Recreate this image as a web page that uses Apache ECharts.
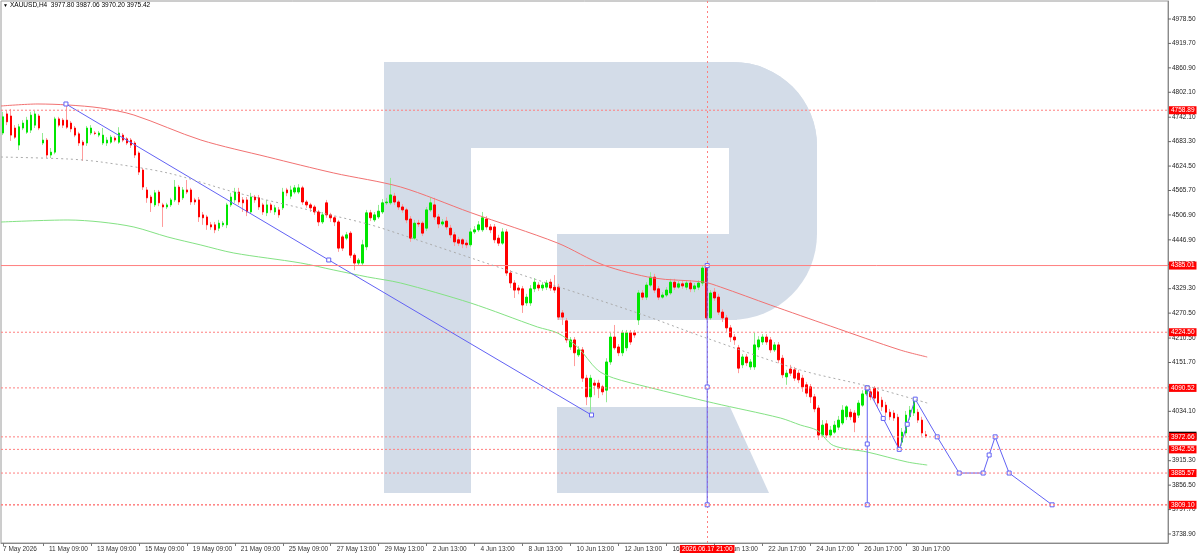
<!DOCTYPE html>
<html><head><meta charset="utf-8">
<script src="https://cdn.jsdelivr.net/npm/echarts@6.0.0/dist/echarts.min.js"></script>
<style>html,body{margin:0;padding:0;background:#fff;}#chart{width:1200px;height:555px;}</style>
</head><body><div id="chart"></div>
<script>
// ---------- data ----------
const symbolName = 'XAUUSD,H4';
const lastOHLC = [3977.80, 3987.06, 3970.20, 3975.42];

// H4 candles: [open, close, low, high]
const candles = [
[4704,4743,4699,4755],[4750,4731,4723,4759],[4745,4699,4685,4762],[4716,4694,4690,4723],[4675,4719,4663,4726],
[4716,4728,4711,4735],[4706,4735,4702,4743],[4711,4747,4704,4755],[4723,4750,4716,4757],[4745,4716,4711,4750],
[4680,4687,4675,4704],[4687,4651,4644,4692],[4651,4658,4644,4668],[4658,4738,4653,4743],[4738,4723,4718,4743],
[4735,4723,4716,4740],[4735,4718,4714,4774],[4728,4714,4706,4733],[4716,4699,4694,4721],[4702,4680,4673,4707],
[4682,4675,4637,4687],[4680,4716,4673,4721],[4704,4716,4699,4723],[4704,4703,4699,4709],[4699,4704,4694,4709],
[4680,4699,4675,4716],[4680,4687,4673,4694],[4682,4694,4678,4699],[4692,4687,4682,4697],[4682,4704,4678,4718],
[4699,4687,4682,4704],[4690,4680,4675,4694],[4687,4675,4668,4692],[4680,4651,4644,4685],[4656,4610,4603,4660],
[4615,4574,4567,4620],[4567,4548,4536,4574],[4550,4536,4514,4555],[4531,4560,4526,4567],[4562,4536,4528,4567],
[4531,4526,4478,4536],[4526,4531,4521,4536],[4531,4543,4526,4548],[4543,4574,4538,4591],[4574,4538,4531,4579],
[4548,4567,4543,4574],[4567,4562,4557,4591],[4567,4538,4531,4572],[4543,4538,4531,4548],[4543,4502,4490,4550],
[4507,4500,4483,4514],[4502,4483,4471,4507],[4483,4478,4471,4490],[4483,4471,4463,4490],[4475,4487,4468,4495],
[4483,4487,4478,4492],[4483,4531,4475,4536],[4531,4550,4526,4560],[4543,4562,4536,4572],[4562,4538,4531,4572],
[4543,4536,4514,4550],[4543,4514,4504,4550],[4514,4550,4509,4560],[4550,4543,4536,4555],[4548,4526,4519,4555],
[4531,4514,4507,4536],[4512,4531,4504,4543],[4531,4519,4512,4536],[4514,4524,4507,4531],[4519,4507,4500,4526],
[4524,4562,4519,4572],[4567,4560,4552,4572],[4552,4567,4545,4577],[4562,4572,4557,4579],[4562,4572,4557,4581],
[4572,4538,4531,4577],[4538,4531,4524,4543],[4531,4524,4514,4536],[4526,4514,4507,4531],[4514,4490,4480,4519],
[4490,4507,4485,4514],[4536,4507,4500,4543],[4507,4500,4490,4512],[4500,4490,4480,4504],[4490,4427,4418,4495],
[4454,4427,4420,4459],[4451,4459,4446,4466],[4463,4410,4403,4468],[4410,4391,4374,4415],[4391,4398,4384,4403],
[4391,4435,4386,4447],[4430,4512,4422,4519],[4512,4500,4492,4519],[4495,4507,4490,4514],[4502,4516,4497,4531],
[4514,4536,4509,4545],[4536,4538,4531,4548],[4536,4555,4531,4596],[4552,4538,4531,4560],[4538,4526,4519,4543],
[4526,4519,4512,4533],[4519,4495,4487,4524],[4497,4451,4442,4504],[4451,4487,4447,4495],[4487,4485,4478,4495],
[4487,4463,4456,4492],[4475,4519,4468,4526],[4519,4536,4514,4548],[4531,4502,4495,4548],[4502,4485,4475,4509],
[4485,4490,4480,4497],[4492,4478,4471,4502],[4475,4459,4451,4483],[4459,4442,4432,4466],[4447,4439,4432,4454],
[4447,4437,4427,4451],[4439,4435,4427,4447],[4435,4466,4430,4475],[4466,4471,4461,4480],[4471,4483,4466,4492],
[4471,4500,4466,4514],[4497,4478,4471,4504],[4478,4471,4463,4485],[4478,4447,4439,4485],[4451,4439,4432,4459],
[4439,4466,4435,4475],[4466,4367,4360,4473],[4367,4343,4331,4374],[4343,4326,4307,4350],[4331,4326,4316,4338],
[4329,4290,4271,4336],[4295,4309,4288,4317],[4295,4329,4288,4338],[4329,4345,4321,4355],[4338,4331,4324,4345],
[4331,4338,4324,4345],[4333,4343,4326,4350],[4345,4331,4324,4353],[4333,4326,4319,4362],[4333,4261,4254,4341],
[4271,4261,4242,4278],[4252,4206,4199,4259],[4189,4206,4182,4213],[4206,4175,4143,4213],[4170,4182,4165,4191],
[4182,4114,4105,4189],[4114,4069,4049,4122],[4069,4114,4025,4122],[4102,4097,4073,4110],[4102,4090,4066,4110],
[4093,4081,4073,4098],[4085,4153,4056,4162],[4153,4213,4146,4223],[4213,4187,4182,4242],[4189,4175,4167,4196],
[4175,4223,4167,4230],[4187,4223,4179,4230],[4223,4201,4194,4230],[4223,4218,4211,4230],[4254,4319,4242,4326],
[4319,4309,4302,4326],[4309,4338,4302,4345],[4338,4357,4333,4369],[4357,4326,4319,4365],[4329,4309,4302,4336],
[4309,4314,4305,4321],[4314,4326,4309,4333],[4319,4345,4314,4353],[4345,4333,4326,4353],[4333,4341,4329,4348],
[4341,4336,4329,4348],[4333,4343,4326,4350],[4343,4329,4321,4350],[4329,4336,4321,4343],[4333,4343,4326,4350],
[4343,4379,4336,4384],[4379,4259,4254,4384],[4259,4319,4254,4326],[4321,4307,4300,4331],[4309,4273,4266,4317],
[4273,4259,4249,4280],[4259,4235,4225,4266],[4235,4213,4201,4242],[4213,4206,4194,4220],[4187,4138,4126,4194],
[4146,4165,4138,4172],[4165,4151,4143,4172],[4141,4153,4134,4160],[4141,4194,4134,4223],[4189,4206,4182,4215],
[4201,4213,4194,4220],[4213,4201,4194,4220],[4206,4182,4175,4213],[4182,4194,4177,4201],[4194,4158,4150,4201],
[4162,4122,4114,4170],[4117,4126,4098,4134],[4136,4126,4119,4146],[4134,4114,4107,4141],[4126,4110,4102,4134],
[4114,4093,4081,4122],[4098,4078,4069,4105],[4093,4069,4054,4100],[4069,4040,4032,4076],[4042,3977,3965,4049],
[3977,4001,3972,4013],[4004,3977,3970,4013],[3977,3989,3972,3999],[3984,4001,3980,4011],[3996,4013,3989,4023],
[4006,4037,4001,4049],[4021,4045,4013,4049],[4032,4021,4013,4040],[4030,4008,3984,4037],[4025,4054,4018,4061],
[4049,4076,4045,4085],[4076,4093,4071,4097],[4081,4069,4061,4088],[4090,4066,4057,4095],[4081,4054,4042,4085],
[4061,4045,4035,4069],[4049,4032,4023,4057],[4032,4021,4013,4040],[4030,4018,4011,4037],[4020,3948,3943,4028],
[3960,3984,3951,3994],[3982,4025,3975,4035],[4021,4037,4013,4047],[4030,4064,4023,4066],[4032,4013,4006,4040],
[4013,3982,3975,4021],[3977.80,3975.42,3970.20,3987.06]
];

// bar slots on the time axis (candles + empty future space)
const slotCount = 292;

// x-axis tick labels (bar index -> text)
const xTickIdx  = [0,10,22,34,46,58,70,82,94,106,118,130,142,154,166,178,190,202,214,226];
const xTickText = ['7 May 2026','11 May 09:00','13 May 09:00','15 May 09:00','19 May 09:00','21 May 09:00',
  '25 May 09:00','27 May 13:00','29 May 13:00','2 Jun 13:00','4 Jun 13:00','8 Jun 13:00','10 Jun 13:00',
  '12 Jun 13:00','16 Jun 13:00','18 Jun 13:00','22 Jun 17:00','24 Jun 17:00','26 Jun 17:00','30 Jun 17:00'];

// price-axis tick labels
const yTicks = [4978.50,4919.70,4860.90,4802.10,4742.10,4683.30,4624.50,4565.70,4506.90,4446.90,4388.10,
  4329.30,4270.50,4210.50,4151.70,4092.90,4034.10,3974.10,3915.30,3856.50,3797.70,3738.90];

// horizontal price levels
const levels = [4758.89,4385.01,4224.50,4090.52,3972.66,3942.55,3885.57,3809.10];
const solidLevel = 4385.01;

// moving averages [barIndex, price]
const maRed = [[-0.5,4769.1],[8.75,4773.9],[16.25,4771.5],[24.5,4764.2],[32.75,4747.4],[49.5,4687.2],
  [66.25,4646.3],[82.75,4607.8],[99.5,4574.1],[117,4512.5],[138.75,4439.3],[150.25,4386.3],[162.75,4355.1],
  [175.25,4345.4],[179.5,4333.4],[192,4290.1],[207,4239.5],[224.5,4181.7],[231.25,4164.9]];
const maGreen = [[-0.5,4489.8],[16.25,4494.7],[24.5,4489.8],[32.75,4477.8],[41.25,4453.7],[49.5,4434.5],
  [57.75,4415.2],[74.5,4391.2],[82.75,4374.3],[91.25,4357.5],[99.5,4343.0],[117,4294.9],[133.75,4237.1],
  [138.75,4222.7],[143.75,4189.0],[148.75,4133.6],[152.75,4114.4],[161.25,4092.7],[177.75,4054.2],
  [194.5,4018.1],[199.5,4001.2],[203.75,3988.0],[207.75,3952.0],[216.25,3936.2],[226.25,3912.2],[231.25,3904.9]];
const maGray = [[-0.5,4646.3],[16.25,4641.5],[24.5,4634.3],[41.25,4607.8],[57.75,4562.1],[74.5,4523.5],
  [91.25,4485.0],[99.5,4460.0],[125.25,4377.0],[158.75,4271.0],[175.25,4213.0],[199.5,4133.6],
  [216.25,4095.1],[231.25,4054.2]];

// drawn objects [barIndex, price]
const trendLine = [[15.75,4773.9],[81.5,4398.4],[147.25,4025.3]];
const vLine1 = [[176.2,4385.0],[176.2,4092.7],[176.2,3809.1]];
const vLine2 = [[216.25,4090.5],[216.25,3955.5],[216.25,3809.1]];
const zigzag = [[216.25,4090.5],[220.25,4017.0],[224.25,3942.6],[226.25,4003.0],[228.25,4063.5],
  [233.75,3972.7],[239.25,3885.6],[245.25,3885.6],[246.75,3929.0],[248.25,3972.7],[251.75,3885.6],[262.5,3809.1]];
const crossIdx = 176.2;
const crossLabel = '2026.06.17 21:00';

// ---------- chart ----------
const FONT = 'Liberation Sans, Arial, sans-serif';
const cats = Array.from({length: slotCount}, (_, i) => String(i));
const tickMap = {};
xTickIdx.forEach((k, j) => { tickMap[k] = xTickText[j]; });
const isTick = (idx) => tickMap[idx] !== undefined;
const bodies = candles.map(c => [c[0], c[1], Math.min(c[0], c[1]), Math.max(c[0], c[1])]);

// watermark logo pieces (decoration)
const LOGO_FILL = '#d3dce8';
const logoEl = (shape, r) => ({ type: 'rect', shape: Object.assign({}, shape, r ? { r: r } : {}), style: { fill: LOGO_FILL }, z: 0, silent: true });

const BLUE = '#6262f4';
const blueLine = (data) => ({
  type: 'line', xAxisIndex: 1, data: data, z: 6, silent: true, animation: false,
  symbol: 'rect', symbolSize: 4, showAllSymbol: true,
  itemStyle: { color: '#ffffff', borderColor: BLUE, borderWidth: 1 },
  lineStyle: { color: BLUE, width: 1 }
});

const LEVEL_RED = '#ff7f7f';
const levelLine = (v) => ({
  type: 'line', xAxisIndex: 1, data: [[-0.5, v], [slotCount - 0.5, v]], z: 7, silent: true, animation: false,
  symbol: 'none',
  itemStyle: { color: LEVEL_RED },
  lineStyle: { color: LEVEL_RED, width: v === 3809.10 ? 1.5 : 1, type: v === solidLevel ? 'solid' : [2, 2] }
});

const labelBox = (bg) => ({
  show: true, position: 'end', distance: 1, backgroundColor: bg, color: '#ffffff',
  fontSize: 6.5, fontFamily: FONT, padding: [1, 2, 0, 2]
});

const HIDDEN = { color: 'rgba(0,0,0,0)', width: 0 };
const tagMarkLine = {
  silent: true, symbol: ['none', 'none'], animation: false,
  data: [{ yAxis: lastOHLC[3], lineStyle: HIDDEN, label: Object.assign(labelBox('#000000'), { formatter: lastOHLC[3].toFixed(2) }) }]
    .concat(levels.map(v => ({ yAxis: v, lineStyle: HIDDEN, label: Object.assign(labelBox('#ff0000'), { formatter: v.toFixed(2) }) })))
    .concat([{
      xAxis: crossIdx,
      lineStyle: { color: LEVEL_RED, width: 1, type: [2, 3] },
      label: Object.assign(labelBox('#ff0000'), { position: 'start', distance: 2, formatter: crossLabel })
    }])
};

const option = {
  animation: false,
  backgroundColor: '#ffffff',
  grid: { left: 0, right: 32, top: 1, bottom: 12, show: true, borderColor: '#9a9a9a', borderWidth: 1, backgroundColor: 'transparent' },
  graphic: [
    logoEl({ x: 384, y: 62, width: 87, height: 431 }),
    logoEl({ x: 384, y: 62, width: 433, height: 86 }, [0, 84, 0, 0]),
    logoEl({ x: 729, y: 62, width: 88, height: 258 }, [0, 84, 86, 0]),
    logoEl({ x: 557, y: 234, width: 180, height: 86 }),
    { type: 'polygon', shape: { points: [[557, 407], [730, 407], [769, 493], [557, 493]] }, style: { fill: LOGO_FILL }, z: 0, silent: true },
    { type: 'text', x: 3, y: 3, style: { text: '\u25BC', fontSize: 5, fill: '#000', fontFamily: FONT }, z: 10 },
    { type: 'text', x: 10, y: 2, style: { text: symbolName + '  ' + lastOHLC.map(v => v.toFixed(2)).join(' '), fontSize: 6.5, fill: '#000', fontFamily: FONT }, z: 10 }
  ],
  xAxis: [
    {
      type: 'category', data: cats, boundaryGap: true,
      axisLine: { show: true, onZero: false, lineStyle: { color: '#8a8a8a' } },
      axisTick: { show: true, alignWithLabel: true, interval: (i) => isTick(i), length: 3, lineStyle: { color: '#777' } },
      axisLabel: {
        show: true, interval: (i) => isTick(i), align: 'left', margin: 3, fontSize: 6.5, color: '#333', fontFamily: FONT,
        formatter: (v) => { const i = Number(v); return i === 0 ? '{a|' + tickMap[i] + '}' : '{b|' + tickMap[i] + '}'; },
        rich: { a: { fontSize: 6.5, fontFamily: FONT, color: '#333' }, b: { fontSize: 6.5, fontFamily: FONT, color: '#333', padding: [0, 0, 0, 6] } }
      },
      splitLine: { show: false }
    },
    { type: 'value', min: -0.5, max: slotCount - 0.5, show: false }
  ],
  yAxis: {
    type: 'value', position: 'right', min: 3717.2, max: 5021.8, scale: true,
    axisLine: { show: true, onZero: false, lineStyle: { color: '#8a8a8a' } },
    axisTick: { show: false },
    axisLabel: {
      show: true, customValues: yTicks, margin: 0, fontSize: 6.5, color: '#222', fontFamily: FONT,
      formatter: (v) => '{t|}{v|' + Number(v).toFixed(2) + '}',
      rich: { t: { width: 3, height: 1, backgroundColor: '#666' }, v: { fontSize: 6.5, fontFamily: FONT, color: '#222', padding: [0, 0, 0, 1] } }
    },
    splitLine: { show: false }
  },
  series: [
    {
      name: 'wicks', type: 'candlestick', data: candles, barWidth: 1, z: 2, silent: true,
      itemStyle: { color: '#93ea93', color0: '#ff9c9c', borderColor: '#93ea93', borderColor0: '#ff9c9c', borderWidth: 1 }
    },
    {
      name: 'bodies', type: 'candlestick', data: bodies, barWidth: 2, z: 3, silent: true,
      itemStyle: { color: '#00e600', color0: '#ff0000', borderColor: '#00e600', borderColor0: '#ff0000', borderWidth: 1 }
    },
    { type: 'line', xAxisIndex: 1, data: maRed, smooth: 0.3, symbol: 'none', z: 4, silent: true, lineStyle: { color: '#f27272', width: 1 } },
    { type: 'line', xAxisIndex: 1, data: maGreen, smooth: 0.3, symbol: 'none', z: 4, silent: true, lineStyle: { color: '#84e284', width: 1 } },
    { type: 'line', xAxisIndex: 1, data: maGray, smooth: 0.3, symbol: 'none', z: 8, silent: true, lineStyle: { color: '#ababab', width: 1, type: [2, 3] },
      markLine: tagMarkLine }
  ].concat(levels.map(levelLine)).concat([
    blueLine(trendLine),
    blueLine(vLine1),
    blueLine(vLine2),
    blueLine(zigzag)
  ])
};

const chart = echarts.init(document.getElementById('chart'), null, { renderer: 'canvas' });
chart.setOption(option);
</script>
</body></html>
